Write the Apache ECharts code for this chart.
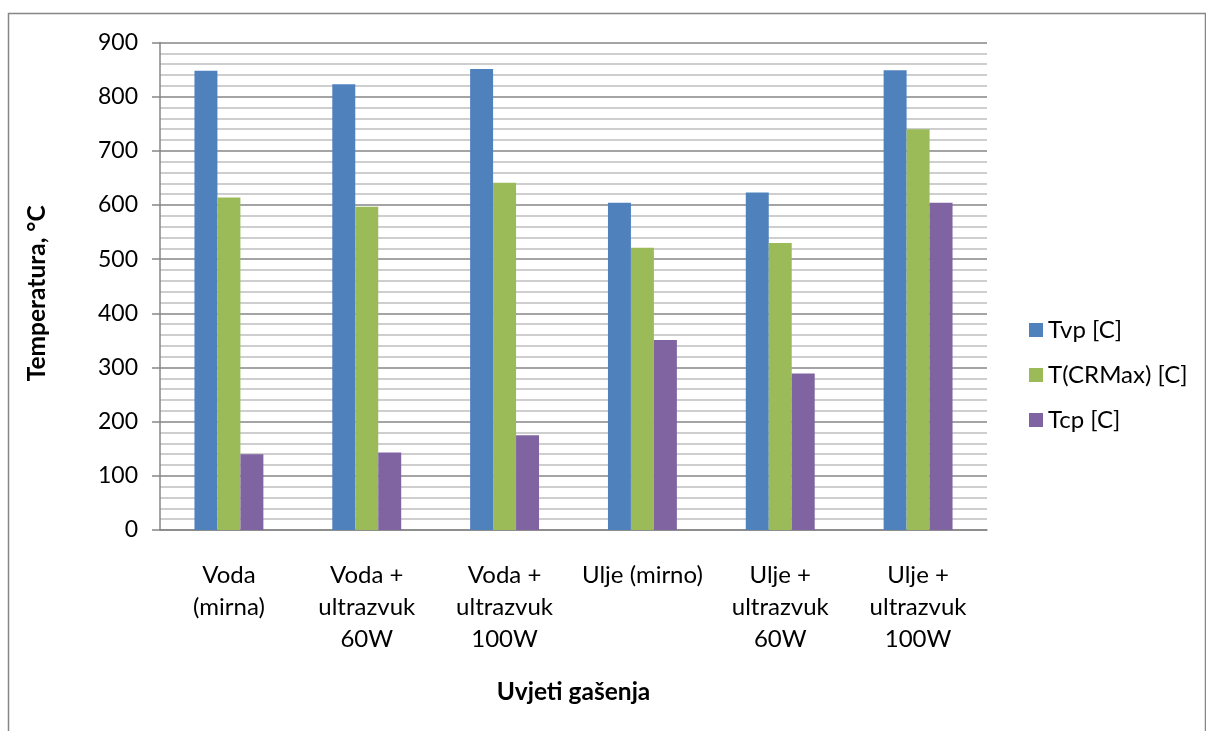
<!DOCTYPE html>
<html>
<head>
<meta charset="utf-8">
<script src="https://cdn.jsdelivr.net/npm/echarts@6/dist/echarts.min.js"></script>
<style>
html,body{margin:0;padding:0;background:#fff;}
#c{width:1206px;height:731px;}
</style>
</head>
<body>
<div id="c"></div>
<script>
var categories = ['Voda\n(mirna)', 'Voda +\nultrazvuk\n60W', 'Voda +\nultrazvuk\n100W', 'Ulje (mirno)', 'Ulje +\nultrazvuk\n60W', 'Ulje +\nultrazvuk\n100W'];
var seriesNames = ['Tvp [C]', 'T(CRMax) [C]', 'Tcp [C]'];
var tvp = [848, 823, 851, 604, 623, 849];
var tcrmax = [614, 597, 641, 521, 530, 740];
var tcp = [140, 143, 175, 351, 289, 604];
var yTicks = [0, 100, 200, 300, 400, 500, 600, 700, 800, 900];
var colors = ['#4F81BD', '#9BBB59', '#8064A2'];

var FONT = 'Lato';
var chart = echarts.init(document.getElementById('c'), null, {renderer: 'canvas'});
var values = [tvp, tcrmax, tcp];
var series = values.map(function (v, i) {
  return {
    name: seriesNames[i],
    type: 'bar',
    data: v,
    barGap: '0%',
    barCategoryGap: '50%',
    itemStyle: {color: colors[i]},
    emphasis: {disabled: true}
  };
});
chart.setOption({
  animation: false,
  color: colors,
  graphic: [{
    type: 'rect',
    shape: {x: 8.5, y: 13.5, width: 1197, height: 800},
    style: {fill: 'none', stroke: '#868686', lineWidth: 1.5},
    silent: true
  }],
  grid: {left: 160, right: 219, top: 42.5, bottom: 201, containLabel: false},
  legend: {
    orient: 'vertical',
    left: 1029,
    top: 318,
    padding: 0,
    itemWidth: 14,
    itemHeight: 14,
    itemGap: 21,
    icon: 'rect',
    textStyle: {fontFamily: FONT, fontSize: 24, lineHeight: 20, color: '#000'},
    data: seriesNames
  },
  xAxis: {
    type: 'category',
    data: categories,
    axisLine: {lineStyle: {color: '#868686', width: 1.5}},
    axisTick: {show: false},
    axisLabel: {
      interval: 0,
      margin: 29,
      fontFamily: FONT,
      fontSize: 24,
      color: '#000',
      lineHeight: 32
    },
    name: 'Uvjeti gašenja',
    nameLocation: 'middle',
    nameGap: 150,
    nameTextStyle: {fontFamily: FONT, fontSize: 24.5, fontWeight: 'bold', color: '#000'}
  },
  yAxis: {
    type: 'value',
    min: yTicks[0],
    max: yTicks[yTicks.length - 1],
    interval: 100,
    axisLine: {show: true, lineStyle: {color: '#868686', width: 1.5}},
    axisTick: {show: true, length: 8, lineStyle: {color: '#868686', width: 1.5}},
    axisLabel: {margin: 22, fontFamily: FONT, fontSize: 23, color: '#000'},
    splitLine: {show: true, lineStyle: {color: '#868686', width: 1.5}},
    minorTick: {show: false, splitNumber: 5},
    minorSplitLine: {show: true, lineStyle: {color: '#BFBFBF', width: 1.5}},
    name: 'Temperatura, °C',
    nameLocation: 'middle',
    nameGap: 110,
    nameRotate: 90,
    nameTextStyle: {fontFamily: FONT, fontSize: 24.5, fontWeight: 'bold', color: '#000', padding: [0, 14, 0, 0]}
  },
  series: series
});
</script>
</body>
</html>
